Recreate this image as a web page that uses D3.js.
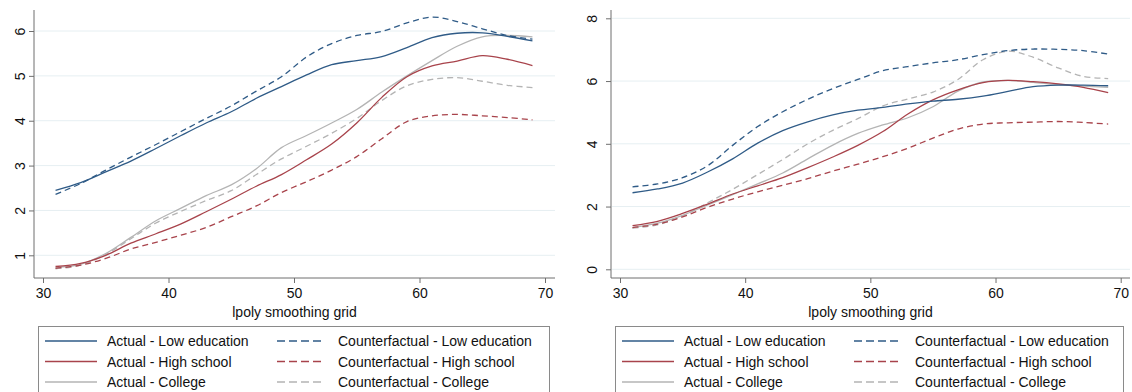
<!DOCTYPE html>
<html>
<head>
<meta charset="utf-8">
<script src="https://cdn.jsdelivr.net/npm/d3@7"></script>
<style>
  body { margin: 0; background: #fff; }
  svg { display: block; font-family: "Liberation Sans", Arial, Helvetica, sans-serif; }
</style>
</head>
<body>
<svg width="1132" height="392"></svg>
<script>
// lpoly smoothing grid (age)
const ages = [31, 33, 35, 37, 39, 41, 43, 45, 47, 49, 51, 53, 55, 57, 59, 61, 63, 65, 67, 69];

// left panel
const leftActualLow = [2.45, 2.62, 2.86, 3.10, 3.38, 3.67, 3.95, 4.20, 4.50, 4.76, 5.02, 5.25, 5.34, 5.43, 5.63, 5.85, 5.95, 5.96, 5.88, 5.78];
const leftCfLow = [2.36, 2.60, 2.90, 3.19, 3.47, 3.76, 4.05, 4.33, 4.66, 4.98, 5.42, 5.72, 5.90, 5.99, 6.18, 6.31, 6.21, 6.05, 5.90, 5.82];
const leftActualHigh = [0.75, 0.82, 1.00, 1.27, 1.48, 1.70, 1.97, 2.25, 2.54, 2.80, 3.13, 3.48, 3.95, 4.52, 4.98, 5.22, 5.33, 5.45, 5.37, 5.23];
const leftCfHigh = [0.71, 0.78, 0.93, 1.14, 1.29, 1.45, 1.62, 1.86, 2.10, 2.40, 2.64, 2.90, 3.20, 3.60, 3.98, 4.11, 4.14, 4.11, 4.07, 4.02];
const leftActualCollege = [0.73, 0.80, 1.04, 1.40, 1.77, 2.05, 2.33, 2.57, 2.93, 3.40, 3.67, 3.95, 4.25, 4.64, 5.00, 5.34, 5.66, 5.87, 5.90, 5.87];
const leftCfCollege = [0.70, 0.78, 1.02, 1.37, 1.72, 1.98, 2.22, 2.44, 2.80, 3.15, 3.43, 3.72, 4.05, 4.45, 4.78, 4.92, 4.96, 4.88, 4.79, 4.74];

// right panel
const rightActualLow = [2.44, 2.56, 2.75, 3.10, 3.52, 4.02, 4.42, 4.70, 4.92, 5.07, 5.16, 5.27, 5.36, 5.42, 5.52, 5.67, 5.82, 5.87, 5.87, 5.85];
const rightCfLow = [2.63, 2.72, 2.92, 3.30, 3.95, 4.55, 5.02, 5.42, 5.76, 6.05, 6.33, 6.46, 6.58, 6.68, 6.84, 6.97, 7.02, 7.01, 6.97, 6.86];
const rightActualHigh = [1.39, 1.53, 1.78, 2.08, 2.40, 2.66, 2.92, 3.24, 3.58, 3.95, 4.39, 4.95, 5.40, 5.72, 5.95, 6.02, 5.98, 5.91, 5.80, 5.63];
const rightCfHigh = [1.33, 1.44, 1.67, 1.98, 2.24, 2.47, 2.68, 2.89, 3.13, 3.35, 3.59, 3.86, 4.18, 4.47, 4.63, 4.67, 4.69, 4.71, 4.68, 4.63];
const rightActualCollege = [1.33, 1.47, 1.72, 2.05, 2.38, 2.72, 3.07, 3.52, 3.96, 4.33, 4.60, 4.83, 5.18, 5.68, 5.97, 6.02, 5.96, 5.89, 5.84, 5.80];
const rightCfCollege = [1.31, 1.42, 1.70, 2.12, 2.55, 3.02, 3.50, 4.00, 4.43, 4.80, 5.21, 5.43, 5.65, 6.05, 6.68, 6.95, 6.76, 6.42, 6.15, 6.08];

const xTicks = [30, 40, 50, 60, 70];
const leftYTicks = [1, 2, 3, 4, 5, 6];
const rightYTicks = [0, 2, 4, 6, 8];

const seriesNames = [
  "Actual - Low education", "Counterfactual - Low education",
  "Actual - High school", "Counterfactual - High school",
  "Actual - College", "Counterfactual - College",
];

const colors = {
  low: "#2f5b87",
  high: "#a8434b",
  college: "#b4b4b4",
};

const styleFor = (i) => ({
  color: [colors.low, colors.low, colors.high, colors.high, colors.college, colors.college][i],
  dashed: i % 2 === 1,
});

const svg = d3.select("svg");

const drawPanel = (opts) => {
  const { left, right, top, bottom, xRange, yDomain, yRange, yTicks, series, yLabelX, legend } = opts;

  const xScale = d3.scaleLinear().domain([30, 70]).range(xRange);
  const yScale = d3.scaleLinear().domain(yDomain).range(yRange);

  const g = svg.append("g");

  //gridlines
  g.append("g")
    .selectAll("line")
    .data(yTicks)
    .enter()
    .append("line")
    .attr("x1", left + 1)
    .attr("x2", right)
    .attr("y1", (d) => yScale(d))
    .attr("y2", (d) => yScale(d))
    .attr("stroke", "#e6eff2")
    .attr("stroke-width", 1);

  //axes
  const xAxis = d3.axisBottom(xScale).tickValues(xTicks).tickSize(5).tickPadding(5);
  const yAxis = d3
    .axisLeft(yScale)
    .tickValues(yTicks)
    .tickFormat(d3.format("d"))
    .tickSize(5)
    .tickPadding(4);

  const gx = g.append("g").attr("transform", `translate(0, ${bottom})`).call(xAxis);
  gx.select(".domain").remove();
  gx.append("line")
    .attr("x1", left)
    .attr("x2", right)
    .attr("stroke", "#6f6f6f");
  gx.selectAll(".tick line").attr("stroke", "#6f6f6f");
  gx.selectAll(".tick text")
    .attr("fill", "#111")
    .style("font-size", "14px")
    .attr("font-family", null);

  const gy = g.append("g").attr("transform", `translate(${left}, 0)`).call(yAxis);
  gy.select(".domain").remove();
  gy.append("line")
    .attr("y1", top)
    .attr("y2", bottom)
    .attr("stroke", "#6f6f6f");
  gy.selectAll(".tick line").attr("stroke", "#6f6f6f");
  gy.selectAll(".tick text")
    .attr("fill", "#111")
    .attr("font-family", null)
    .style("font-size", "14px")
    .attr("x", null)
    .attr("dy", null)
    .attr("text-anchor", "middle")
    .attr("transform", `translate(${yLabelX - left + 5}, 0) rotate(-90)`);

  //axis title
  g.append("text")
    .attr("x", (left + right) / 2)
    .attr("y", bottom + 39)
    .attr("text-anchor", "middle")
    .style("font-size", "14px")
    .attr("fill", "#111")
    .text("lpoly smoothing grid");

  //lines
  const line = d3
    .line()
    .x((d) => xScale(d[0]))
    .y((d) => yScale(d[1]))
    .curve(d3.curveCatmullRom.alpha(0.5));

  const order = [4, 5, 2, 3, 0, 1];
  g.append("g")
    .selectAll("path")
    .data(order)
    .enter()
    .append("path")
    .attr("d", (i) => line(ages.map((a, k) => [a, series[i][k]])))
    .attr("fill", "none")
    .attr("stroke", (i) => styleFor(i).color)
    .attr("stroke-width", 1.3)
    .attr("stroke-dasharray", (i) => (styleFor(i).dashed ? "6,4" : null));

  //legend
  const lg = g.append("g").attr("transform", `translate(${legend.x}, ${legend.y})`);
  lg.append("rect")
    .attr("x", 0.5)
    .attr("y", 0.5)
    .attr("width", legend.w)
    .attr("height", 90)
    .attr("fill", "#fff")
    .attr("stroke", "#8a8a8a");

  const items = lg
    .selectAll(".item")
    .data(seriesNames)
    .enter()
    .append("g")
    .attr("class", "item")
    .attr("transform", (d, i) => {
      const col = i % 2;
      const row = Math.floor(i / 2);
      return `translate(${col * 232}, ${15 + row * 20.5})`;
    });

  items
    .append("line")
    .attr("x1", 7)
    .attr("x2", (d, i) => (i % 2 ? 53 : 59))
    .attr("stroke", (d, i) => styleFor(i).color)
    .attr("stroke-width", 1.5)
    .attr("stroke-dasharray", (d, i) => (styleFor(i).dashed ? "8,4" : null));

  items
    .append("text")
    .attr("x", (d, i) => (i % 2 ? 68 : 69))
    .attr("dy", "0.36em")
    .style("font-size", "14px")
    .attr("fill", "#111")
    .text((d) => d);
};

drawPanel({
  left: 34,
  right: 555,
  top: 10,
  bottom: 278,
  xRange: [43, 545],
  yDomain: [1, 6],
  yRange: [255.3, 31],
  yTicks: leftYTicks,
  yLabelX: 20,
  series: [leftActualLow, leftCfLow, leftActualHigh, leftCfHigh, leftActualCollege, leftCfCollege],
  legend: { x: 38, y: 326, w: 511 },
});

drawPanel({
  left: 611,
  right: 1130,
  top: 10,
  bottom: 278,
  xRange: [620, 1120.7],
  yDomain: [0, 8],
  yRange: [269.3, 18.3],
  yTicks: rightYTicks,
  yLabelX: 592,
  series: [rightActualLow, rightCfLow, rightActualHigh, rightCfHigh, rightActualCollege, rightCfCollege],
  legend: { x: 615, y: 326, w: 508 },
});
</script>
</body>
</html>
